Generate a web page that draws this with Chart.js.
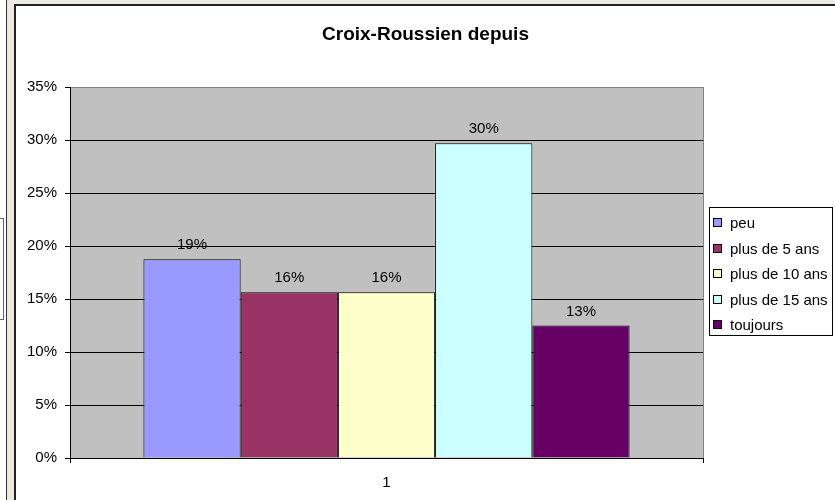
<!DOCTYPE html>
<html>
<head>
<meta charset="utf-8">
<script src="https://cdn.jsdelivr.net/npm/chart.js@4.4.1/dist/chart.umd.min.js"></script>
<style>
html,body{margin:0;padding:0;width:835px;height:500px;overflow:hidden;background:#ece9e3;}
#leftPanel{position:absolute;left:0;top:0;width:6px;height:500px;background:#fff;border-right:1px solid #333;}
#smallBox{position:absolute;left:0;top:218px;width:3px;height:100px;border:1px solid #666;border-left:none;background:#fff;}
#frame{position:absolute;left:14px;top:4px;width:821px;height:496px;background:#fff;border-left:2px solid #222;border-top:2px solid #222;box-sizing:border-box;}
#c{position:absolute;left:0;top:0;}
</style>
</head>
<body>
<div id="leftPanel"></div>
<div id="smallBox"></div>
<div id="frame"></div>
<canvas id="c" width="835" height="500"></canvas>
<script>
// ---- data ----
const categories = ['1'];
const seriesNames = ['peu', 'plus de 5 ans', 'plus de 10 ans', 'plus de 15 ans', 'toujours'];
const seriesValues = [18.75, 15.63, 15.63, 29.69, 12.5];
const seriesColors = ['#9999ff', '#993366', '#ffffcc', '#ccffff', '#660066'];
const yTickValues = [0, 5, 10, 15, 20, 25, 30, 35];
const chartTitle = 'Croix-Roussien depuis';

const FONT = '"Liberation Sans", Arial, sans-serif';
Chart.defaults.font.family = FONT;
Chart.defaults.color = '#000';

const datasets = seriesNames.map((name, i) => ({
  label: name,
  data: [seriesValues[i]],
  backgroundColor: seriesColors[i],
  borderColor: '#000',
  borderWidth: 1,
  barPercentage: 1,
  categoryPercentage: 0.768
}));

const plotBg = {
  id: 'plotBg',
  beforeDraw(chart) {
    const a = chart.chartArea, ctx = chart.ctx;
    ctx.save();
    ctx.fillStyle = '#c0c0c0';
    ctx.fillRect(a.left, a.top, a.right - a.left, a.bottom - a.top);
    ctx.restore();
  }
};

const valueLabels = {
  id: 'valueLabels',
  afterDatasetsDraw(chart) {
    const ctx = chart.ctx;
    ctx.save();
    ctx.font = '15px ' + FONT;
    ctx.fillStyle = '#000';
    ctx.textAlign = 'center';
    ctx.textBaseline = 'alphabetic';
    chart.data.datasets.forEach((ds, i) => {
      const meta = chart.getDatasetMeta(i);
      meta.data.forEach((el, j) => {
        const v = ds.data[j];
        ctx.fillText(Math.round(v) + '%', el.x, el.y - 10);
      });
    });
    ctx.restore();
  }
};

const boxLegend = {
  id: 'boxLegend',
  afterDraw(chart) {
    const ctx = chart.ctx;
    const bx = 709.5, by = 207.5, bw = 123, bh = 128;
    ctx.save();
    ctx.fillStyle = '#fff';
    ctx.fillRect(bx, by, bw, bh);
    ctx.strokeStyle = '#000';
    ctx.lineWidth = 1;
    ctx.strokeRect(bx, by, bw, bh);
    ctx.font = '15px ' + FONT;
    ctx.textBaseline = 'middle';
    ctx.textAlign = 'left';
    chart.data.datasets.forEach((ds, i) => {
      const cy = 223 + i * 25.5;
      ctx.fillStyle = ds.backgroundColor;
      ctx.fillRect(713.5, Math.round(cy) - 4.5, 8, 8);
      ctx.strokeStyle = '#000';
      ctx.strokeRect(713.5, Math.round(cy) - 4.5, 8, 8);
      ctx.fillStyle = '#000';
      ctx.fillText(ds.label, 730, cy + 1);
    });
    ctx.restore();
  }
};

new Chart(document.getElementById('c'), {
  type: 'bar',
  data: { labels: categories, datasets },
  plugins: [plotBg, valueLabels, boxLegend],
  options: {
    responsive: false,
    devicePixelRatio: 1,
    animation: false,
    layout: { padding: { left: 16, top: 0, right: 0, bottom: 0 } },
    plugins: {
      legend: { display: false },
      tooltip: { enabled: false },
      title: {
        display: true,
        text: chartTitle,
        color: '#000',
        font: { size: 19, weight: 'bold', family: FONT },
        padding: { top: 23.6, bottom: 40.6 }
      }
    },
    scales: {
      x: {
        type: 'category',
        offset: true,
        grid: {
          offset: true,
          color: (c) => c.type === 'tick' ? '#000' : '#808080',
          tickColor: '#000',
          tickLength: 5,
          drawTicks: true
        },
        border: { color: '#000', width: 1 },
        ticks: { font: { size: 15, family: FONT }, color: '#000', padding: 11 },
        afterFit: (s) => { s.height = 42; }
      },
      y: {
        min: 0,
        max: 35,
        afterBuildTicks: (s) => { s.ticks = yTickValues.map(v => ({ value: v })); },
        ticks: {
          callback: (v) => v + '%',
          font: { size: 15, family: FONT },
          color: '#000',
          padding: 8
        },
        grid: {
          color: (c) => (c.tick && c.tick.value === 35) ? '#808080' : '#000',
          tickColor: '#000',
          tickLength: 5
        },
        border: { color: '#000', width: 1 },
        afterFit: (s) => { s.width = 54; }
      },
      yRight: {
        type: 'linear',
        position: 'right',
        display: true,
        grid: { display: false, drawTicks: false },
        border: { display: false },
        ticks: { display: false },
        afterFit: (s) => { s.width = 132; }
      }
    }
  }
});
</script>
</body>
</html>
